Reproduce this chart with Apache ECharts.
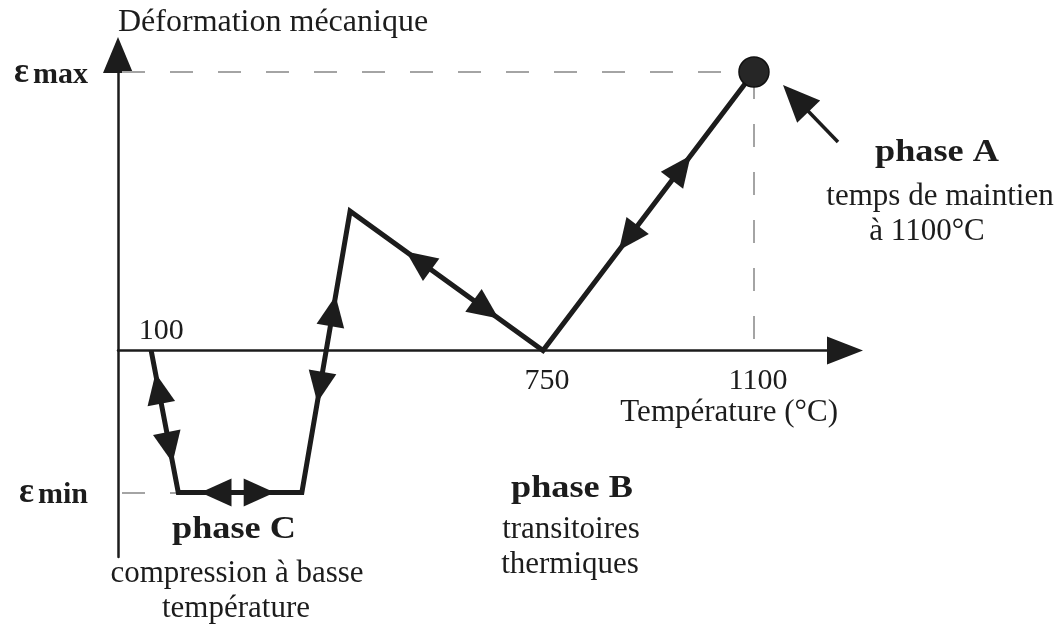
<!DOCTYPE html>
<html>
<head>
<meta charset="utf-8">
<script src="https://cdn.jsdelivr.net/npm/echarts@6/dist/echarts.min.js"></script>
<style>
  html, body { margin: 0; padding: 0; background: #ffffff; }
  #chart { width: 1062px; height: 631px; }
</style>
</head>
<body>
<div id="chart"></div>
<script>
// Thermomechanical cycle: mechanical strain against temperature (°C)
const temperature = [100, 145, 350, 430, 750, 1100];
const strain      = [0, -0.51, -0.51, 0.5, 0, 1];
const tempTicks   = [750, 1100];
const startTemp   = 100;
const EPS_MAX = 1;
const EPS_MIN = -0.51;
const strainTicks = [EPS_MIN, EPS_MAX];
const strainTickNames = ['min', 'max'];
// Each segment carries two opposed arrowheads; tip positions as a fraction of the segment
const arrowTips = [[0.16, 0.79], [0.18, 0.78], [0.32, 0.70], [0.29, 0.77], [0.36, 0.70]];

const X_MIN = 45, X_MAX = 1251;
const Y_MIN = -0.7415, Y_MAX = 1.061;
const INK = '#1c1c1c';
const SERIF = '"Liberation Serif", "Times New Roman", serif';

const segments = [];
for (let i = 0; i < temperature.length - 1; i++) {
  segments.push([temperature[i], strain[i], temperature[i + 1], strain[i + 1],
                 arrowTips[i][0], arrowTips[i][1]]);
}

function renderSegmentArrows(params, api) {
  const a = api.coord([api.value(0), api.value(1)]);
  const b = api.coord([api.value(2), api.value(3)]);
  const dx = b[0] - a[0], dy = b[1] - a[1];
  const len = Math.hypot(dx, dy);
  const ux = dx / len, uy = dy / len, nx = -uy, ny = ux;
  const L = 31, W = 14;
  function head(t, dir) {
    const tx = a[0] + ux * len * t, ty = a[1] + uy * len * t;
    const bx = tx - dir * ux * L, by = ty - dir * uy * L;
    return {
      type: 'polygon',
      shape: { points: [[tx, ty], [bx + nx * W, by + ny * W], [bx - nx * W, by - ny * W]] },
      style: { fill: INK }
    };
  }
  return { type: 'group', children: [head(api.value(4), -1), head(api.value(5), 1)] };
}

// Pointer towards the hold point at maximum temperature
function renderPointer(params, api) {
  const p = api.coord([api.value(0), api.value(1)]);
  const tip = [p[0] + 29, p[1] + 13];
  const tail = [p[0] + 84, p[1] + 70];
  const dx = tip[0] - tail[0], dy = tip[1] - tail[1];
  const len = Math.hypot(dx, dy);
  const ux = dx / len, uy = dy / len, nx = -uy, ny = ux;
  const L = 37, W = 16;
  const bx = tip[0] - ux * L, by = tip[1] - uy * L;
  return {
    type: 'group',
    children: [
      { type: 'line', shape: { x1: tail[0], y1: tail[1], x2: bx + ux * 4, y2: by + uy * 4 },
        style: { stroke: INK, lineWidth: 3.5 } },
      { type: 'polygon', shape: { points: [tip, [bx + nx * W, by + ny * W], [bx - nx * W, by - ny * W]] },
        style: { fill: INK } }
    ]
  };
}

const chart = echarts.init(document.getElementById('chart'), null, { renderer: 'canvas' });

const pathData = temperature.map((t, i) =>
  i === temperature.length - 1
    ? { value: [t, strain[i]], symbol: 'circle', symbolSize: 30 }
    : [t, strain[i]]
);

const lastT = temperature[temperature.length - 1];

const tickLabelStyle = { fontSize: 30, fontFamily: SERIF, color: INK, opacity: 1 };

// temperature tick labels sitting on the strain-zero axis
const tempLabelData = [
  { value: [startTemp, 0], label: { position: 'top', distance: 4, offset: [10, 0] } }
].concat(tempTicks.map(t => ({ value: [t, 0], label: { position: 'bottom', distance: 15, offset: [4, 0] } })));

chart.setOption({
  backgroundColor: '#ffffff',
  animation: false,
  grid: { left: 118, top: 55, right: 217, bottom: 74, containLabel: false, outerBoundsMode: 'none' },
  xAxis: {
    type: 'value',
    min: X_MIN,
    max: X_MAX,
    axisLine: {
      show: true, onZero: true,
      symbol: ['none', 'triangle'], symbolSize: [28, 36],
      lineStyle: { color: INK, width: 2.5 }
    },
    axisTick: { show: false },
    splitLine: { show: false },
    axisLabel: { show: false },
    name: 'Température (°C)',
    nameLocation: 'end',
    nameGap: -7,
    nameMoveOverlap: false,
    nameTextStyle: {
      fontSize: 31, fontFamily: SERIF, color: INK,
      align: 'right', verticalAlign: 'top', padding: [47, 0, 0, 0]
    }
  },
  yAxis: {
    type: 'value',
    min: Y_MIN,
    max: Y_MAX,
    axisLine: {
      show: true,
      symbol: ['none', 'triangle'], symbolSize: [30, 36],
      lineStyle: { color: INK, width: 2.5 }
    },
    axisTick: { show: false },
    splitLine: { show: false },
    axisLabel: {
      customValues: strainTicks,
      margin: 30,
      padding: [6, 0, 0, 0],
      formatter: function (v) {
        const idx = strainTicks.indexOf(v);
        return '{e|ε}{t|' + (idx >= 0 ? strainTickNames[idx] : '') + '}';
      },
      rich: {
        e: { fontSize: 35, fontWeight: 'bold', fontFamily: SERIF, color: INK, padding: [0, 4, 5, 0] },
        t: { fontSize: 30, fontWeight: 'bold', fontFamily: SERIF, color: INK }
      }
    },
    name: 'Déformation mécanique',
    nameLocation: 'end',
    nameGap: 32,
    nameMoveOverlap: false,
    nameTextStyle: {
      fontSize: 32, fontFamily: SERIF, color: INK,
      align: 'left', verticalAlign: 'middle'
    }
  },
  series: [
    {
      // temperature labels and dashed reference guides
      type: 'scatter',
      z: 1,
      silent: true,
      data: tempLabelData,
      symbolSize: 1,
      itemStyle: { color: 'transparent', opacity: 1 },
      label: Object.assign({
        show: true,
        formatter: function (p) { return String(p.value[0]); }
      }, tickLabelStyle),
      markLine: {
        silent: true,
        z: 1,
        symbol: 'none',
        label: { show: false },
        lineStyle: { color: '#a4a4a4', width: 2, type: [23, 25], dashOffset: 44 },
        data: [
          [{ coord: [X_MIN, EPS_MAX] }, { coord: [lastT, EPS_MAX] }],
          [{ coord: [lastT, EPS_MAX] }, { coord: [lastT, 0] }],
          [{ coord: [X_MIN, EPS_MIN] }, { coord: [temperature[1], EPS_MIN] }]
        ]
      }
    },
    {
      type: 'line',
      z: 3,
      silent: true,
      data: pathData,
      symbol: 'none',
      showSymbol: true,
      lineStyle: { color: INK, width: 5, join: 'miter', miterLimit: 10 },
      itemStyle: { color: '#262626', borderColor: '#111111', borderWidth: 1.5 }
    },
    {
      type: 'custom',
      z: 4,
      silent: true,
      data: segments,
      encode: { x: [0, 2], y: [1, 3] },
      renderItem: renderSegmentArrows
    },
    {
      type: 'custom',
      z: 4,
      silent: true,
      data: [[lastT, EPS_MAX]],
      renderItem: renderPointer
    }
  ],
  graphic: [
    { type: 'text', x: 937, y: 153, scaleX: 1.17, style: { text: 'phase A', fontSize: 31, fontWeight: 'bold', fontFamily: SERIF, fill: INK, align: 'center', verticalAlign: 'middle' } },
    { type: 'text', x: 940, y: 197, style: { text: 'temps de maintien', fontSize: 31, fontFamily: SERIF, fill: INK, align: 'center', verticalAlign: 'middle' } },
    { type: 'text', x: 927, y: 232, style: { text: 'à 1100°C', fontSize: 31, fontFamily: SERIF, fill: INK, align: 'center', verticalAlign: 'middle' } },

    { type: 'text', x: 572, y: 489, scaleX: 1.17, style: { text: 'phase B', fontSize: 31, fontWeight: 'bold', fontFamily: SERIF, fill: INK, align: 'center', verticalAlign: 'middle' } },
    { type: 'text', x: 571, y: 530, style: { text: 'transitoires', fontSize: 31, fontFamily: SERIF, fill: INK, align: 'center', verticalAlign: 'middle' } },
    { type: 'text', x: 570, y: 565, style: { text: 'thermiques', fontSize: 31, fontFamily: SERIF, fill: INK, align: 'center', verticalAlign: 'middle' } },

    { type: 'text', x: 234, y: 530, scaleX: 1.17, style: { text: 'phase C', fontSize: 31, fontWeight: 'bold', fontFamily: SERIF, fill: INK, align: 'center', verticalAlign: 'middle' } },
    { type: 'text', x: 237, y: 574, style: { text: 'compression à basse', fontSize: 31, fontFamily: SERIF, fill: INK, align: 'center', verticalAlign: 'middle' } },
    { type: 'text', x: 236, y: 609, style: { text: 'température', fontSize: 31, fontFamily: SERIF, fill: INK, align: 'center', verticalAlign: 'middle' } }
  ]
});
</script>
</body>
</html>
